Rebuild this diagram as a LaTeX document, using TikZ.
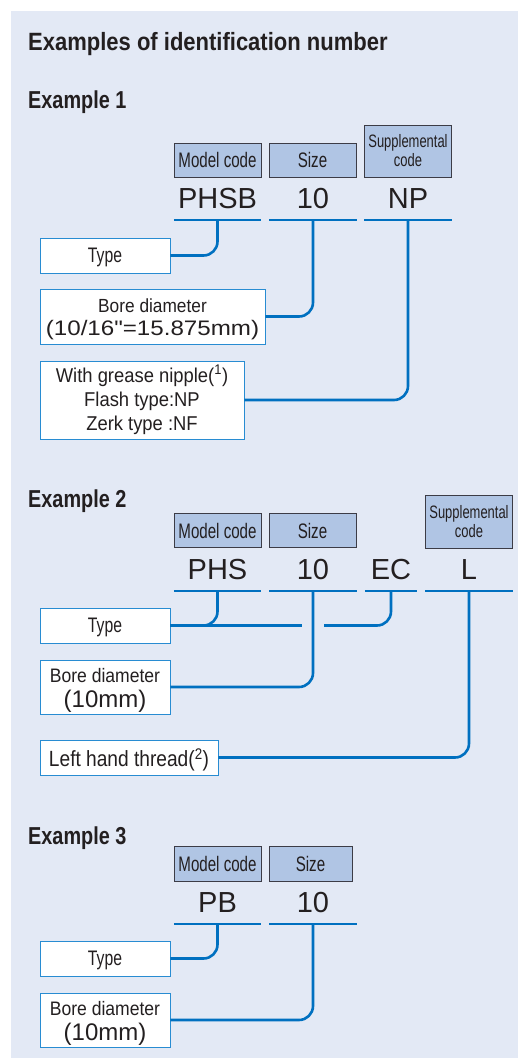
\documentclass[tikz,border=0pt]{standalone}
\usepackage{fontspec}
\setmainfont{Liberation Sans}
\newfontfamily\straightq{Liberation Sans}
\usepackage{graphicx}

\definecolor{bgblue}{RGB}{227,233,245}
\definecolor{hdrblue}{RGB}{176,197,228}
\definecolor{hdrgray}{RGB}{60,60,70}
\definecolor{linkblue}{RGB}{0,112,192}
\definecolor{boxblue}{RGB}{40,140,210}
\definecolor{ink}{RGB}{35,31,32}

\newcommand{\narrowtext}[2]{\scalebox{#1}[1]{#2}}

\tikzset{
  heading/.style={anchor=base west,inner sep=0pt,text=ink,
    font=\fontsize{24.5}{24.5}\selectfont\bfseries},
  hdrbox/.style={draw=hdrgray,fill=hdrblue,line width=0.9pt,text=ink,
    minimum width=87pt,minimum height=34pt,inner sep=0pt,align=center,
    font=\fontsize{21}{21}\selectfont},
  codetxt/.style={anchor=south,minimum width=87pt,inner sep=0pt,text=ink,
    text height=21pt,text depth=11pt,font=\fontsize{29}{29}\selectfont},
  uline/.style={draw=linkblue,line width=2.6pt},
  labelbox/.style={draw=boxblue,fill=white,line width=0.9pt,text=ink,
    inner sep=0pt,align=center},
  onerow/.style={text depth=0pt},
  link/.style={draw=linkblue,line width=2.6pt,rounded corners=14pt}
}

\begin{document}
\begin{tikzpicture}[x=1pt,y=-1pt]
  \useasboundingbox (0,0) rectangle (518,1058);
  \fill [bgblue] (11,11) rectangle (518,1058);
  \node (title) at (28,50) [heading,font=\fontsize{25}{25}\selectfont\bfseries]
    {\narrowtext{0.88}{Examples of identification number}};

  % Example 1
  \node (ex1) at (28,108) [heading] {\narrowtext{0.81}{Example 1}};
  \node (mc1) at (217.5,160) [hdrbox] {\narrowtext{0.72}{Model code}};
  \node (sz1) at (312.5,160) [hdrbox] {\narrowtext{0.72}{Size}};
  \node (sup1) at (408,151) [hdrbox,minimum height=52pt,font=\fontsize{18}{19}\selectfont]
    {\narrowtext{0.72}{Supplemental}\\\narrowtext{0.72}{code}};
  \node (c1a) at (217.5,220) [codetxt] {PHSB};
  \node (c1b) at (313,220) [codetxt] {10};
  \node (c1c) at (408,220) [codetxt] {NP};
  \foreach \c in {c1a,c1b,c1c}
    \draw [uline] (\c.south west) -- (\c.south east);
  \node (type1) at (105,255.5) [labelbox,onerow,minimum width=130pt,minimum height=35pt,
    font=\fontsize{21}{21}\selectfont] {\narrowtext{0.75}{Type}};
  \node (bore1) at (152.5,316.5) [labelbox,minimum width=225pt,minimum height=55pt,
    font=\fontsize{19}{23}\selectfont]
    {\rule{0pt}{20pt}\narrowtext{0.91}{Bore diameter}\\
     \narrowtext{1.15}{\fontsize{21}{23}\selectfont(10/16{\straightq"}=15.875mm)}};
  \node (nip1) at (142,400) [labelbox,minimum width=204pt,minimum height=78pt,
    font=\fontsize{20}{24}\selectfont]
    {\narrowtext{0.92}{With grease nipple(\textsuperscript{1})}\\
     \narrowtext{0.92}{Flash type:NP}\\
     \narrowtext{0.92}{Zerk type :NF}};
  \draw [link] (c1a.south) |- (type1.east);
  \draw [link] (c1b.south) |- (bore1.east);
  \draw [link] (c1c.south) |- (nip1.east);

  % Example 2
  \node (ex2) at (28,507) [heading] {\narrowtext{0.81}{Example 2}};
  \node (mc2) at (217.5,530.5) [hdrbox] {\narrowtext{0.72}{Model code}};
  \node (sz2) at (312.5,530.5) [hdrbox] {\narrowtext{0.72}{Size}};
  \node (sup2) at (469,521.5) [hdrbox,minimum height=53pt,font=\fontsize{18}{19}\selectfont]
    {\narrowtext{0.72}{Supplemental}\\\narrowtext{0.72}{code}};
  \node (c2a) at (217.5,591) [codetxt] {PHS};
  \node (c2b) at (313,591) [codetxt] {10};
  \node (c2c) at (391,591) [codetxt,minimum width=52pt] {EC};
  \node (c2d) at (469,591) [codetxt] {L};
  \foreach \c in {c2a,c2b,c2c,c2d}
    \draw [uline] (\c.south west) -- (\c.south east);
  \node (type2) at (105,625.5) [labelbox,onerow,minimum width=130pt,minimum height=35pt,
    font=\fontsize{21}{21}\selectfont] {\narrowtext{0.75}{Type}};
  \node (bore2) at (105,687) [labelbox,minimum width=130pt,minimum height=54pt,
    font=\fontsize{19.5}{25}\selectfont]
    {\rule{0pt}{21pt}\narrowtext{0.9}{Bore diameter}\\{\fontsize{24}{25}\selectfont(10mm)}};
  \node (left2) at (129,757.5) [labelbox,onerow,minimum width=178pt,minimum height=35pt,
    font=\fontsize{22}{22}\selectfont] {\narrowtext{0.87}{Left hand thread(\textsuperscript{2})}};
  \coordinate (gap2a) at (302,625.5);
  \coordinate (gap2b) at (324,625.5);
  \draw [link] (c2a.south) |- (type2.east);
  \draw [link] (type2.east) -- (gap2a);
  \draw [link] (gap2b) -| (c2c.south);
  \draw [link] (c2b.south) |- (bore2.east);
  \draw [link] (c2d.south) |- (left2.east);

  % Example 3
  \node (ex3) at (28,844) [heading] {\narrowtext{0.81}{Example 3}};
  \node (mc3) at (217.5,863.5) [hdrbox,minimum height=35pt] {\narrowtext{0.72}{Model code}};
  \node (sz3) at (310.5,863.5) [hdrbox,minimum width=83pt,minimum height=35pt] {\narrowtext{0.72}{Size}};
  \node (c3a) at (217.5,924) [codetxt] {PB};
  \node (c3b) at (313,924) [codetxt] {10};
  \foreach \c in {c3a,c3b}
    \draw [uline] (\c.south west) -- (\c.south east);
  \node (type3) at (105,958.5) [labelbox,onerow,minimum width=130pt,minimum height=35pt,
    font=\fontsize{21}{21}\selectfont] {\narrowtext{0.75}{Type}};
  \node (bore3) at (105,1020) [labelbox,minimum width=130pt,minimum height=54pt,
    font=\fontsize{19.5}{25}\selectfont]
    {\rule{0pt}{21pt}\narrowtext{0.9}{Bore diameter}\\{\fontsize{24}{25}\selectfont(10mm)}};
  \draw [link] (c3a.south) |- (type3.east);
  \draw [link] (c3b.south) |- (bore3.east);
\end{tikzpicture}
\end{document}
